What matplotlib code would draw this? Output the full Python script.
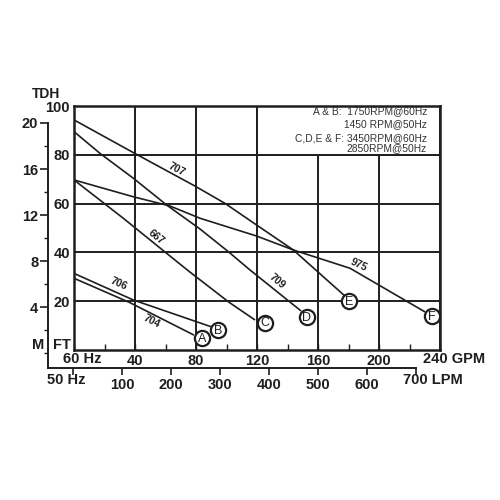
import matplotlib
matplotlib.use('Agg')
import matplotlib.pyplot as plt
from matplotlib.patches import Rectangle

plt.rcParams['font.family'] = ['Liberation Sans', 'DejaVu Sans']

INK = '#1e1e1e'

# ---- data: flow (GPM @ 60 Hz) vs total dynamic head (ft) ----
c704_gpm = [0, 36.7, 78.7]
c704_ft = [29.4, 19.4, 6.1]
c706_gpm = [0, 38.9, 90.5]
c706_ft = [31.4, 20.5, 9.4]
c667_gpm = [0, 32.3, 60.8, 75.7, 101.8, 118.7]
c667_ft = [69.7, 54.0, 39.6, 32.1, 19.5, 12.3]
c709_gpm = [0, 17.0, 38.9, 60.8, 82.6, 101.2, 115.4, 148.9]
c709_ft = [89.5, 80.6, 70.4, 59.4, 49.6, 40.3, 32.8, 16.0]
c707_gpm = [0, 38.9, 79.3, 99.0, 119.8, 143.8, 177.7]
c707_ft = [94.3, 80.9, 67.2, 60.1, 51.2, 41.0, 22.1]
c975_gpm = [0, 38.9, 63.0, 82.6, 119.8, 143.8, 181.0, 230.2]
c975_ft = [69.7, 62.8, 59.0, 54.0, 46.7, 41.0, 33.5, 15.6]

curve_names = ['704', '706', '667', '709', '707', '975']
end_letters = ['A', 'B', 'C', 'D', 'E', 'F']
letter_gpm = [83.9, 94.6, 125.2, 152.6, 180.3, 234.6]
letter_ft = [4.8, 8.2, 11.2, 13.6, 20.1, 13.9]

# curve label positions (gpm, ft, rotation)
label_gpm = [50.9, 29.1, 54.0, 132.9, 67.4, 186.5]
label_ft = [11.6, 27.3, 46.4, 28.0, 73.8, 34.9]
label_rot = [-27, -24, -39, -40, -28, -25]

gpm_ticks = [0, 40, 80, 120, 160, 200, 240]
gpm_labels = ['', '40', '80', '120', '160', '200', '']
ft_ticks = [20, 40, 60, 80, 100]
m_ticks = [4, 8, 12, 16, 20]
m_minor = [0, 2, 6, 10, 14, 18]
lpm_ticks = [0, 100, 200, 300, 400, 500, 600, 700]
lpm_labels = ['', '100', '200', '300', '400', '500', '600', '']

legend_lines = ['A & B:  1750RPM@60Hz', '1450 RPM@50Hz',
                'C,D,E & F: 3450RPM@60Hz', '2850RPM@50Hz']

fig = plt.figure(figsize=(5, 5), dpi=100)
fig.patch.set_facecolor('white')

def fx(px):
    return px / 500.0

def fy(py):
    return 1 - py / 500.0

# ---- secondary scales (metres / LPM) ----
ax2 = fig.add_axes([fx(48), fy(368), fx(416 - 48), fy(123) - fy(368)])
ax2.set_facecolor('none')
ax2.set_xlim(-51, 700)
ax2.set_ylim(-1.3, 20)
for s in ['top', 'right']:
    ax2.spines[s].set_visible(False)
for s in ['left', 'bottom']:
    ax2.spines[s].set_linewidth(1.4)
    ax2.spines[s].set_color(INK)
ax2.set_yticks(m_ticks)
ax2.set_yticks(m_minor, minor=True)
ax2.set_yticklabels([str(v) for v in m_ticks], fontsize=10.5, fontweight='bold', color=INK)
ax2.tick_params(axis='y', which='major', direction='out', length=6, width=1.2, pad=1, colors=INK)
ax2.tick_params(axis='y', which='minor', direction='out', length=3, width=1.0, colors=INK)
ax2.set_xticks(lpm_ticks)
ax2.set_xticklabels(lpm_labels, fontsize=10.5, fontweight='bold', color=INK)
ax2.tick_params(axis='x', which='major', direction='out', length=5, width=1.2, pad=2, colors=INK)

# ---- main chart ----
ax = fig.add_axes([fx(74), fy(350), fx(440 - 74), fy(106) - fy(350)])
ax.set_facecolor('white')
ax.set_xlim(0, 240)
ax.set_ylim(0, 100)
for s in ax.spines.values():
    s.set_linewidth(1.8)
    s.set_color(INK)
ax.set_xticks(gpm_ticks)
ax.set_xticklabels(gpm_labels, fontsize=10.5, fontweight='bold', color=INK)
ax.set_xticks([20, 60, 100, 140, 180, 220], minor=True)
ax.tick_params(axis='x', which='both', direction='in', length=4, width=1.0, pad=3, colors=INK)
ax.set_yticks(ft_ticks)
ax.set_yticklabels([str(v) for v in ft_ticks], fontsize=10.5, fontweight='bold', color=INK)
ax.tick_params(axis='y', direction='in', length=0, pad=3, colors=INK)
ax.grid(True, which='major', color=INK, linewidth=1.4)
ax.set_axisbelow(True)

# legend block (white box over top-right cell)
ax.add_patch(Rectangle((120, 80), 120, 20, facecolor='white', edgecolor=INK,
                       linewidth=1.4, zorder=1.5))
ys = [98.0, 92.5, 87.0, 82.7]
for t, yv in zip(legend_lines, ys):
    ax.text(231.5, yv, t, ha='right', va='center', fontsize=7.4, color='#333333', zorder=4)

curves_g = [c704_gpm, c706_gpm, c667_gpm, c709_gpm, c707_gpm, c975_gpm]
curves_f = [c704_ft, c706_ft, c667_ft, c709_ft, c707_ft, c975_ft]
for g, f in zip(curves_g, curves_f):
    ax.plot(g, f, color=INK, linewidth=1.2, zorder=3, solid_capstyle='butt')

for name, x, y, r in zip(curve_names, label_gpm, label_ft, label_rot):
    ax.text(x, y, name, rotation=r, ha='center', va='center', fontsize=7.5,
            fontweight='bold', color=INK, zorder=4, rotation_mode='anchor')

ax.scatter(letter_gpm, letter_ft, s=120, facecolor='white', edgecolor=INK,
           linewidth=1.6, zorder=5, clip_on=False)
for L, x, y in zip(end_letters, letter_gpm, letter_ft):
    ax.text(x, y - 0.3, L, ha='center', va='center', fontsize=9, color=INK,
            zorder=6, clip_on=False)

# ---- axis captions ----
fig.text(fx(32), fy(94), 'TDH', ha='left', va='center', fontsize=10, fontweight='bold', color=INK)
fig.text(fx(32), fy(345), 'M', ha='left', va='center', fontsize=10.5, fontweight='bold', color=INK)
fig.text(fx(53), fy(345), 'FT', ha='left', va='center', fontsize=10.5, fontweight='bold', color=INK)
fig.text(fx(63), fy(359), '60 Hz', ha='left', va='center', fontsize=10.5, fontweight='bold', color=INK)
fig.text(fx(423), fy(359), '240 GPM', ha='left', va='center', fontsize=10.5, fontweight='bold', color=INK)
fig.text(fx(47), fy(380), '50 Hz', ha='left', va='center', fontsize=10.5, fontweight='bold', color=INK)
fig.text(fx(403), fy(380), '700 LPM', ha='left', va='center', fontsize=10.5, fontweight='bold', color=INK)

fig.savefig('out.png', dpi=100, facecolor='white')
